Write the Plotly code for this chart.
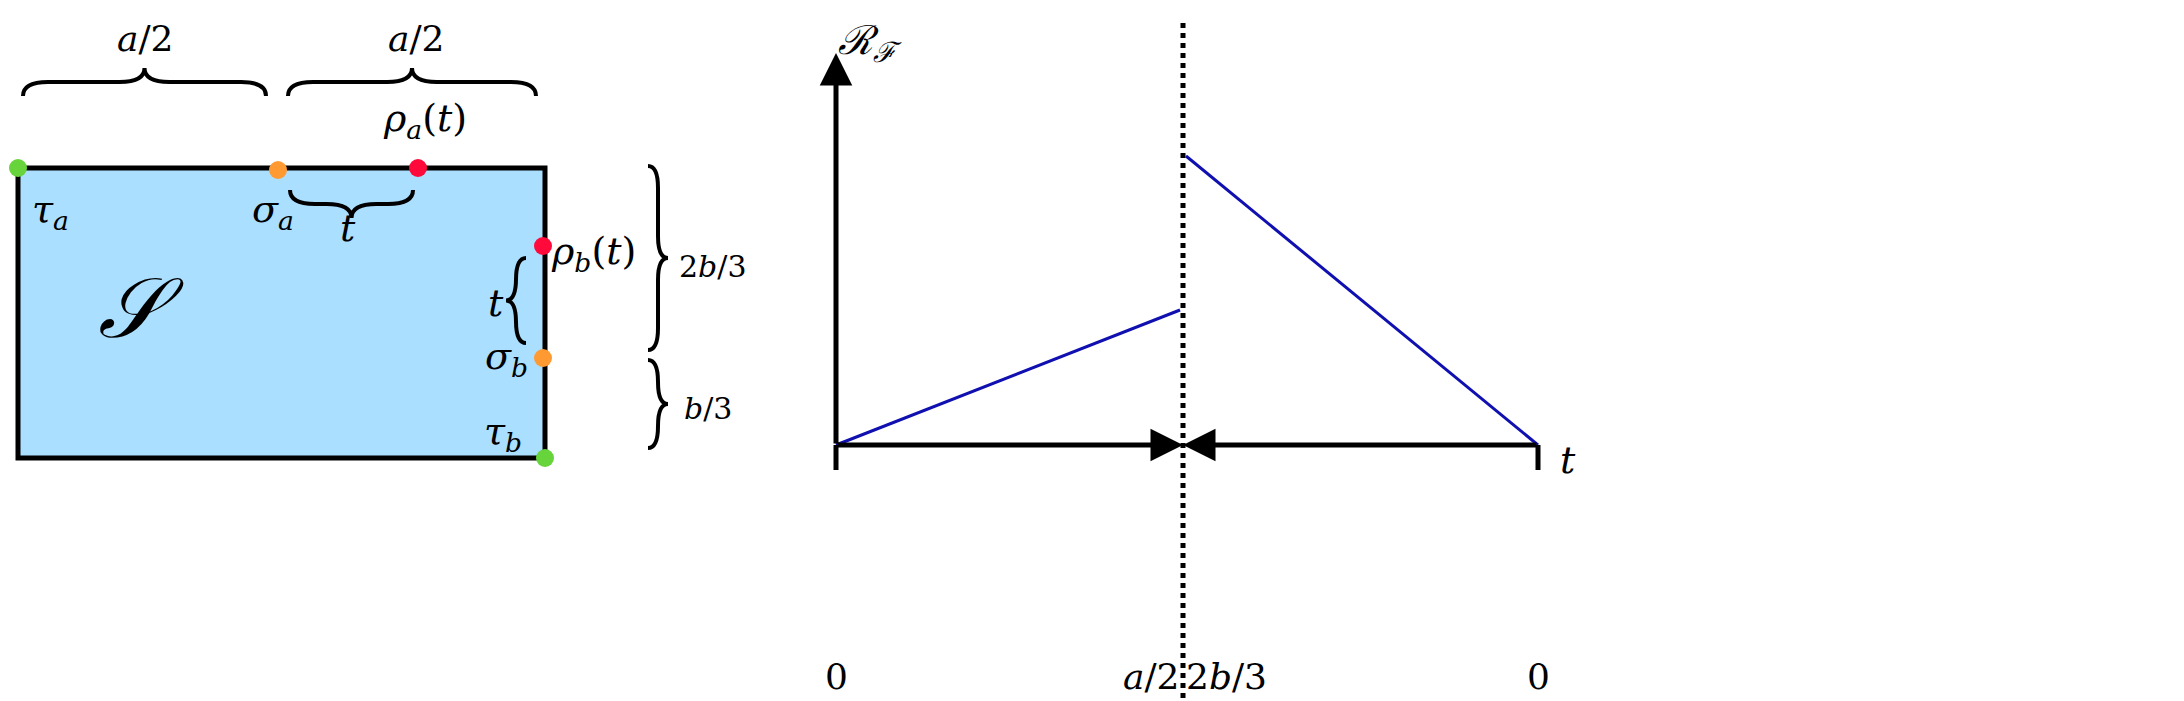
import plotly.graph_objects as go

W, H = 2184, 701

# left panel: rectangle corners (pixel space of the figure)
rect_x = [10, 537, 537, 10, 10]
rect_y = [160, 160, 450, 450, 160]

# marked points on the rectangle
pt_x = [10, 537, 270, 535, 410, 535]
pt_y = [160, 450, 162, 350, 160, 238]
pt_col = ["#66d43a", "#66d43a", "#ff9a33", "#ff9a33", "#ff0a3a", "#ff0a3a"]

# right panel: graph of R_F(t)
seg1_x, seg1_y = [828, 1172], [437, 302]
seg2_x, seg2_y = [1178, 1530], [148, 437]
dot_x, dot_y = [1175, 1175], [15, 701]

# braces: (x0, y0, x1, y1, direction)
h_braces = [(15, 88, 258, 1), (280, 88, 528, 1), (282, 182, 405, -1)]
v_braces = [(640, 158, 342, 1), (640, 352, 440, 1), (518, 250, 335, -1)]

texts = [
    (137, 30, "<i>a</i>/2", 36),
    (408, 30, "<i>a</i>/2", 36),
    (417, 112, "<i>ρ<sub>a</sub></i>(<i>t</i>)", 38),
    (42, 203, "<i>τ<sub>a</sub></i>", 38),
    (265, 203, "<i>σ<sub>a</sub></i>", 38),
    (340, 220, "<i>t</i>", 38),
    (585, 245, "<i>ρ<sub>b</sub></i>(<i>t</i>)", 38),
    (488, 295, "<i>t</i>", 38),
    (133, 300, "<i>𝒮</i>", 84),
    (498, 350, "<i>σ<sub>b</sub></i>", 38),
    (495, 425, "<i>τ<sub>b</sub></i>", 38),
    (705, 258, "2<i>b</i>/3", 30),
    (700, 400, "<i>b</i>/3", 30),
    (862, 35, "<i>ℛ<sub>ℱ</sub></i>", 40),
    (828, 668, "0", 36),
    (1143, 668, "<i>a</i>/2", 36),
    (1218, 668, "2<i>b</i>/3", 36),
    (1530, 668, "0", 36),
    (1560, 452, "<i>t</i>", 38),
]


def h_brace(x0, y, x1, d, h=14):
    m = (x0 + x1) / 2
    yt = y - d * h
    yp = y - d * 2 * h
    r = 25
    return (f"M {x0},{y} Q {x0},{yt} {x0+r},{yt} L {m-r},{yt} Q {m},{yt} {m},{yp} "
            f"Q {m},{yt} {m+r},{yt} L {x1-r},{yt} Q {x1},{yt} {x1},{y}")


def v_brace(x, y0, y1, d, h=10):
    m = (y0 + y1) / 2
    xt = x + d * h
    xp = x + d * 2 * h
    r = 22
    return (f"M {x},{y0} Q {xt},{y0} {xt},{y0+r} L {xt},{m-r} Q {xt},{m} {xp},{m} "
            f"Q {xt},{m} {xt},{m+r} L {xt},{y1-r} Q {xt},{y1} {x},{y1}")


fig = go.Figure()
fig.add_trace(go.Scatter(x=rect_x, y=rect_y, fill="toself", fillcolor="#abdfff",
                         mode="lines", line=dict(color="black", width=5)))
fig.add_trace(go.Scatter(x=pt_x, y=pt_y, mode="markers",
                         marker=dict(color=pt_col, size=18)))
fig.add_trace(go.Scatter(x=dot_x, y=dot_y, mode="lines",
                         line=dict(color="black", width=5, dash="dot")))
for sx, sy in [(seg1_x, seg1_y), (seg2_x, seg2_y)]:
    fig.add_trace(go.Scatter(x=sx, y=sy, mode="lines",
                             line=dict(color="#1010b0", width=3)))

shapes = []
for x0, y, x1, d in h_braces:
    shapes.append(dict(type="path", path=h_brace(x0, y, x1, d),
                       line=dict(color="black", width=4)))
for x, y0, y1, d in v_braces:
    shapes.append(dict(type="path", path=v_brace(x, y0, y1, d),
                       line=dict(color="black", width=4)))
# tick marks under x axis
for tx in [828, 1530]:
    shapes.append(dict(type="line", x0=tx, x1=tx, y0=437, y1=462,
                       line=dict(color="black", width=5)))

ann = []
for x, y, s, fs in texts:
    ann.append(dict(x=x, y=y, text=s, showarrow=False, xref="x", yref="y",
                    font=dict(family="DejaVu Serif", size=fs, color="black")))
arrows = [(828, 437, 828, 45), (828, 437, 1175, 437), (1530, 437, 1175, 437)]
for ax, ay, x, y in arrows:
    ann.append(dict(x=x, y=y, ax=ax, ay=ay, xref="x", yref="y", axref="x", ayref="y",
                    text="", showarrow=True, arrowhead=2, arrowsize=1.3,
                    arrowwidth=5, arrowcolor="black"))

fig.update_layout(
    width=W, height=H, margin=dict(l=0, r=0, t=0, b=0),
    paper_bgcolor="white", plot_bgcolor="white", showlegend=False,
    shapes=shapes, annotations=ann,
    xaxis=dict(range=[0, W], visible=False),
    yaxis=dict(range=[H, 0], visible=False),
)
fig.write_html("out.html")
